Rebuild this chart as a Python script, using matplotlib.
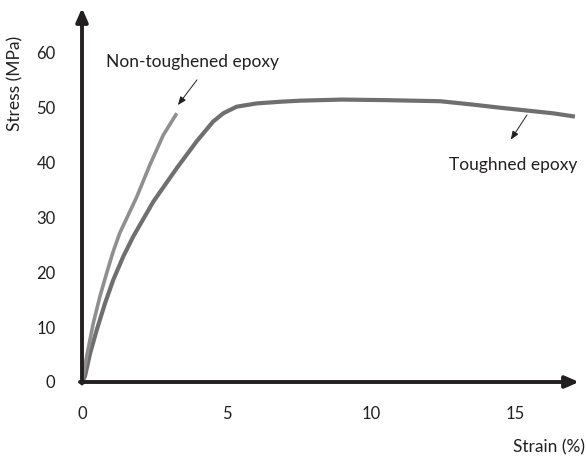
import matplotlib
matplotlib.use("Agg")
import matplotlib.pyplot as plt

plt.rcParams['font.family'] = ['Lato', 'DejaVu Sans']

# Toughened epoxy (strain %, stress MPa)
tough_x = [0.0, 0.10, 0.28, 0.51, 0.80, 1.08, 1.43, 1.78, 2.47, 3.28, 3.97, 4.54, 4.89, 5.35, 6.04, 6.85, 7.54, 9.0, 10.5, 12.4, 13.5, 14.5, 15.4, 16.3, 17.06]
tough_y = [0.0, 1.0, 5.2, 9.5, 14.4, 18.6, 22.9, 26.6, 32.9, 39.0, 43.9, 47.5, 49.0, 50.2, 50.8, 51.1, 51.3, 51.5, 51.4, 51.2, 50.6, 50.0, 49.5, 49.0, 48.4]

# Non-toughened epoxy
nont_x = [0.0, 0.16, 0.39, 0.62, 0.85, 1.08, 1.31, 1.89, 2.35, 2.81, 3.28]
nont_y = [0.0, 4.6, 10.7, 15.6, 19.8, 23.8, 27.2, 33.7, 39.6, 45.0, 49.0]

xticks = [0, 5, 10, 15]
yticks = [0, 10, 20, 30, 40, 50, 60]

fig = plt.figure(figsize=(5.86, 4.58), dpi=100)
ax = fig.add_axes([82/586, (458-382)/458, 497/586, 374/458])
ax.set_xlim(0, 17.2)
ax.set_ylim(0, 68.2)

ax.plot(tough_x, tough_y, color='#6f6f6f', lw=3.0, solid_capstyle='butt',
        solid_joinstyle='round', zorder=3)
ax.plot(nont_x, nont_y, color='#8f8f8f', lw=2.6, solid_capstyle='butt',
        solid_joinstyle='round', zorder=3)

for s in ax.spines.values():
    s.set_visible(False)

axcol = '#231f20'
ax.annotate('', xy=(1.0, 0), xytext=(-0.004, 0), xycoords='axes fraction',
            arrowprops=dict(arrowstyle='-|>,head_length=0.8,head_width=0.35', lw=2.8, color=axcol,
                            shrinkA=0, shrinkB=0), annotation_clip=False, zorder=5)
ax.annotate('', xy=(0, 1.0), xytext=(0, -0.004), xycoords='axes fraction',
            arrowprops=dict(arrowstyle='-|>,head_length=0.8,head_width=0.35', lw=2.8, color=axcol,
                            shrinkA=0, shrinkB=0), annotation_clip=False, zorder=5)

ax.set_xticks(xticks)
ax.set_xticklabels([str(v) for v in xticks])
ax.set_yticks(yticks)
ax.set_yticklabels([str(v) for v in yticks])
ax.tick_params(axis='both', length=0, labelsize=12, colors='#231f20')
ax.tick_params(axis='x', pad=17)
ax.tick_params(axis='y', pad=19)

fig.text(15/586, 1 - 83/458, 'Stress (MPa)', fontsize=12.5, color='#231f20',
         rotation=90, ha='center', va='center')
fig.text(585/586, 1 - 447/458, 'Strain (%)', fontsize=12.5, color='#231f20', ha='right', va='center')

ax.text(3.81, 58.4, 'Non-toughened epoxy', fontsize=12.5, color='#231f20', ha='center', va='center')
ax.annotate('', xy=(3.32, 50.5), xytext=(3.98, 55.1),
            arrowprops=dict(arrowstyle='-|>,head_length=0.5,head_width=0.2', lw=0.7, color='#231f20',
                            shrinkA=0, shrinkB=0))
ax.text(17.13, 39.6, 'Toughned epoxy', fontsize=12.5, color='#231f20', ha='right', va='center')
ax.annotate('', xy=(14.84, 44.2), xytext=(15.4, 48.7),
            arrowprops=dict(arrowstyle='-|>,head_length=0.5,head_width=0.2', lw=0.7, color='#231f20',
                            shrinkA=0, shrinkB=0))

fig.savefig('out.png', dpi=100)
